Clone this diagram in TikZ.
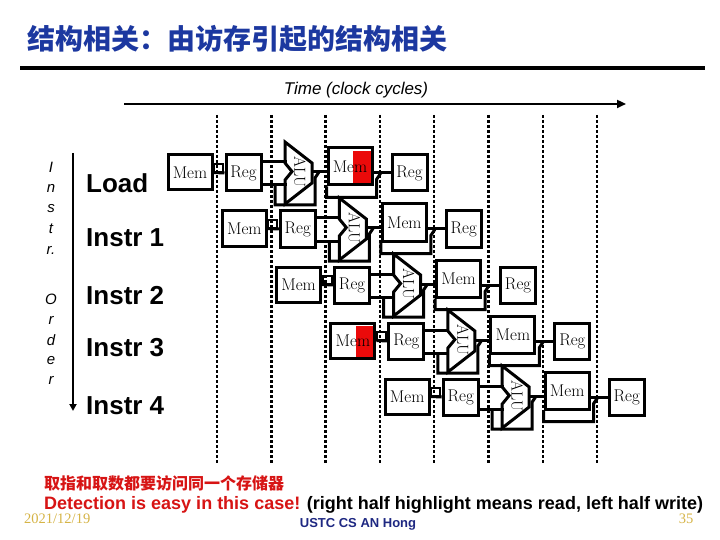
\documentclass[tikz,border=0pt]{standalone}
\usepackage{fontspec}
\newfontfamily\arialf{Liberation Sans}
\newfontfamily\cjkf{Noto Sans CJK SC}
\newfontfamily\timesf{Liberation Serif}
\usetikzlibrary{arrows.meta}
\definecolor{titleblue}{RGB}{28,56,160}
\definecolor{hired}{RGB}{235,10,10}
\definecolor{txtred}{RGB}{215,20,20}
\definecolor{goldtxt}{RGB}{214,180,70}
\definecolor{navytxt}{RGB}{30,40,130}
\tikzset{
 stagebox/.style={draw,line width=3pt,fill=white,inner sep=0pt,font=\fontsize{17}{20}\selectfont},
 membox/.style={stagebox,minimum width=44pt,minimum height=35pt},
 regbox/.style={stagebox,minimum width=35pt,minimum height=36pt},
 plainmem/.style={},
 readmem/.style={path picture={\fill[hired] ([xshift=-19pt,yshift=-3pt]path picture bounding box.north east) rectangle ([xshift=-1.5pt]path picture bounding box.south east);}},
 wire/.style={line width=3pt},
 clockline/.style={line width=2.4pt,dash pattern=on 3pt off 2pt},
 alushape/.style={line width=3pt,fill=white,line join=miter},
 alutext/.style={rotate=-90,inner sep=0pt,font=\fontsize{16}{19}\selectfont},
 rowlabel/.style={anchor=base west,inner sep=0pt,font=\arialf\bfseries\fontsize{26}{30}\selectfont},
 orderletter/.style={inner sep=0pt,font=\arialf\itshape\fontsize{15}{18}\selectfont},
}
\begin{document}
\begin{tikzpicture}[x=1pt,y=-1pt]
\useasboundingbox[fill=white] (0,0) rectangle (720,540);

% title
\node[anchor=base west,inner sep=0pt,text=titleblue,font=\cjkf\bfseries\fontsize{28}{32}\selectfont] (title) at (27,49.5) {结构相关：由访存引起的结构相关};
\coordinate (ruleL) at (20,68.5);
\coordinate (ruleR) at (705,68.5);
\draw[line width=4pt] (ruleL) -- (ruleR);

% time axis
\node[anchor=base,inner sep=0pt,font=\arialf\itshape\fontsize{17}{20}\selectfont] (timelbl) at (356,95) {Time (clock cycles)};
\coordinate (tstart) at (124,104);
\coordinate (tend) at (626,104);
\draw[line width=2.8pt,-{Triangle[length=9pt,width=8pt]}] (tstart) -- (tend);

% clock cycle boundaries
\foreach \i in {0,...,7}{
  \coordinate (ct\i) at (217+54.3*\i,115);
  \coordinate (cb\i) at (217+54.3*\i,463);
  \draw[clockline] (ct\i) -- (cb\i);
}

% instruction order axis
\coordinate (ordtop) at (73,153);
\coordinate (ordbot) at (73,411);
\draw[line width=2.5pt,-{Triangle[length=7pt,width=7pt]}] (ordtop) -- (ordbot);
\foreach \ch/\yy [count=\n] in {I/167,n/188,s/209,t/229,r./250,O/299,r/320,d/340,e/361,r/380}{
  \node[orderletter] (ol\n) at (51,\yy) {\ch};
}

% row labels
\node[rowlabel] (lload) at (86,193) {Load};
\node[rowlabel] (li1) at (86,246) {Instr 1};
\node[rowlabel] (li2) at (86,304) {Instr 2};
\node[rowlabel] (li3) at (86,356) {Instr 3};
\node[rowlabel] (li4) at (86,414) {Instr 4};

% pipeline rows
\foreach \k/\ist/\dst in {0/plainmem/readmem,1/plainmem/plainmem,2/plainmem/plainmem,3/readmem/plainmem,4/plainmem/plainmem}{
\begin{scope}[shift={(54.3*\k,56*\k)}]
  \node[membox,\ist] (im\k) at (190,172.5) {Mem};
  \node[regbox] (rr\k) at (243.5,173) {Reg};
  \draw[alushape] (285,142) -- (312,163) -- (312,183) -- (285,204) -- (285,180) -- (292,171.5) -- (285,163) -- cycle;
  \node[alutext] (alu\k) at (300,172) {ALU};
  \coordinate (aluout\k) at (312,172);
  \node[membox,minimum height=37pt,\dst] (dm\k) at (350,166.5) {Mem};
  \node[regbox] (wb\k) at (409.5,173) {Reg};
  % IF -> ID
  \draw[wire] (im\k.east) -- (rr\k.west);
  \draw[line width=2pt] (214,164) rectangle (223,172);
  % ID -> EX
  \draw[wire] ([yshift=11pt]rr\k.east) -- ++(24,0);
  \draw[wire] ([yshift=-12pt]rr\k.east) -- ++(24,0);
  \draw[wire] (275,185) -- (275,205) -- (315,205) -- (315,178) -- (319,172);
  % EX -> MEM
  \draw[wire] (aluout\k) -- (aluout\k -| dm\k.west);
  \draw[wire] (dm\k.south west) -- ++(0,11) -- ++(50,0) -- ++(0,-18) -- ++(4,-6);
  % MEM -> WB
  \draw[wire] (dm\k.east |- wb\k.west) -- (wb\k.west);
\end{scope}
}

% bottom notes
\node[anchor=base west,inner sep=0pt,text=txtred,font=\cjkf\bfseries\fontsize{16}{19}\selectfont] (note1) at (44,489) {取指和取数都要访问同一个存储器};
\node[anchor=base west,inner sep=0pt,font=\arialf\bfseries\fontsize{18}{21}\selectfont] (note2) at (44,509) {\textcolor{txtred}{Detection is easy in this case!} (right half highlight means read, left half write)};
\node[anchor=base west,inner sep=0pt,text=goldtxt,font=\timesf\fontsize{14.5}{17}\selectfont] (date) at (24,523) {2021/12/19};
\node[anchor=base,inner sep=0pt,text=navytxt,font=\arialf\bfseries\fontsize{13}{15}\selectfont] (footer) at (358,527) {USTC CS AN Hong};
\node[anchor=base,inner sep=0pt,text=goldtxt,font=\timesf\fontsize{14.5}{17}\selectfont] (pageno) at (686,523) {35};
\end{tikzpicture}
\end{document}
